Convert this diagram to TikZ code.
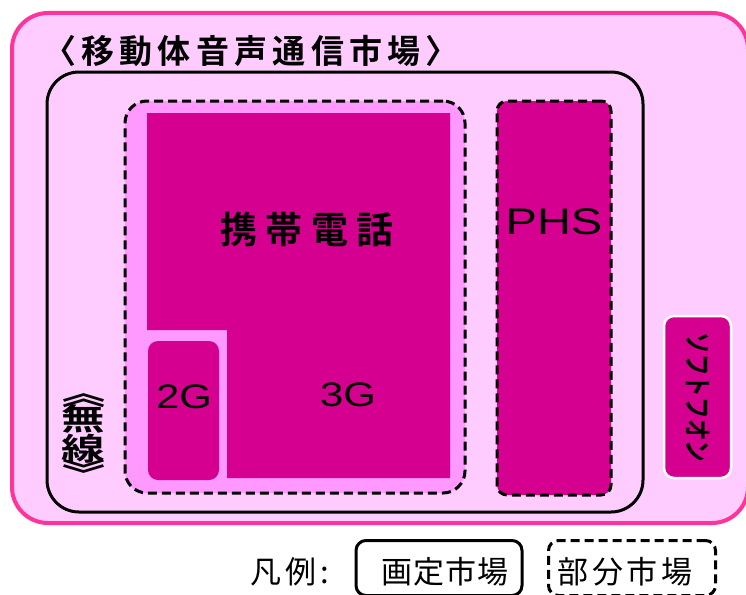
\documentclass[tikz,border=0pt]{standalone}
\usepackage{fontspec}
\setmainfont{Noto Sans CJK JP}[BoldFont={Noto Sans CJK JP Bold}]
\newfontfamily\latin{Liberation Sans}
\usepackage{tikz}
\usetikzlibrary{positioning}
\definecolor{rim}{RGB}{255,51,153}
\definecolor{paper}{RGB}{255,204,255}
\definecolor{halo}{RGB}{255,153,255}
\definecolor{mag}{RGB}{213,0,143}
\tikzset{market/.style={draw, line width=3pt, rounded corners=#1},
% solid border = fixed market, dashed border = partial market
partial/.style={draw, line width=3pt, dash pattern=on 9pt off 5pt, rounded corners=#1},
seg/.style={fill=mag, minimum width=#1},
tag/.style={font=\latin\fontsize{34}{34}\selectfont},
legtext/.style={font=\fontsize{31}{31}\selectfont\addfontfeature{LetterSpace=#1}},
vert/.style={font=\fontsize{31}{31}\selectfont\bfseries, inner sep=0pt}
}

\begin{document}
\begin{tikzpicture}[x=1pt,y=-1pt]
    \useasboundingbox (0,0) rectangle (746,594);
    \node[draw=rim, fill=paper, line width=4pt, rounded corners=36pt, minimum width=736pt, minimum height=510pt] (all) at (380,268) {};
    \node (title) at (251,51) {\fontsize{33}{33}\selectfont\bfseries\addfontfeature{LetterSpace=16}〈移動体音声通信市場〉};
    \node[market=32pt, minimum width=596pt, minimum height=440pt] (fixed) at (345,292) {};
    \node[partial=22pt, fill=halo, minimum width=340pt, minimum height=392pt] (keitai) at (295,297) {};
    % L-shaped block: 3G with the 2G corner cut away
    \fill[mag] (147,113) -- (450,113) -- (450,478) -- (227,478) -- (227,330) -- (147,330) -- cycle;
    \node (keitaitext) at (307,229) {\fontsize{37}{37}\selectfont\bfseries\addfontfeature{LetterSpace=22}携帯電話};
    \node[tag] (g3) at (348,395) {\scalebox{1.23}[1]{3G}};
    \node[seg=71pt, rounded corners=10pt, minimum height=139pt] (g2box) at (183.5,410.5) {};
    \node[tag] (g2) at (184,397) {\scalebox{1.23}[1]{2G}};
    \node[partial=10pt, seg=114pt, minimum height=394pt] (phs) at (554,298) {};
    \node[font=\latin\fontsize{37}{37}\selectfont] (phstext) at (554,222) {\scalebox{1.27}[1]{PHS}};
    \node[seg=67pt, draw=white, line width=2.5pt, rounded corners=10pt, minimum height=162pt] (soft) at (697.5,397) {};
    \node[rotate=-90, font=\fontsize{28}{28}\selectfont\bfseries] (softtext) at (698.5,397.5) {\scalebox{0.77}[1]{ソフトフオン}};
    % vertical label, stretched sideways
    \node[vert] (wup) at (83.5,393) {\scalebox{1.4}[1]{\rotatebox{-90}{《}}};
    \node[vert] (wmu) at (83.5,418.5) {\scalebox{1.4}[1]{無}};
    \node[vert] (wsen) at (83.5,449) {\scalebox{1.4}[1]{線}};
    \node[vert] (wdown) at (83.5,474) {\scalebox{1.4}[1]{\rotatebox{-90}{》}}};
    % legend
    \node[market=10pt, minimum width=166pt, minimum height=55pt] (legfixed) at (439,568) {};
    \node[legtext=3] (legfixedtext) at (445,572) {画定市場};
    \node[partial=10pt, minimum width=167pt, minimum height=55pt] (legpart) at (632,568) {};
    \node[legtext=12] (legparttext) at (625,572) {部分市場};
    \node[legtext=12] (legend) at (290,572) {凡例:};
  \end{tikzpicture}
\end{document}
